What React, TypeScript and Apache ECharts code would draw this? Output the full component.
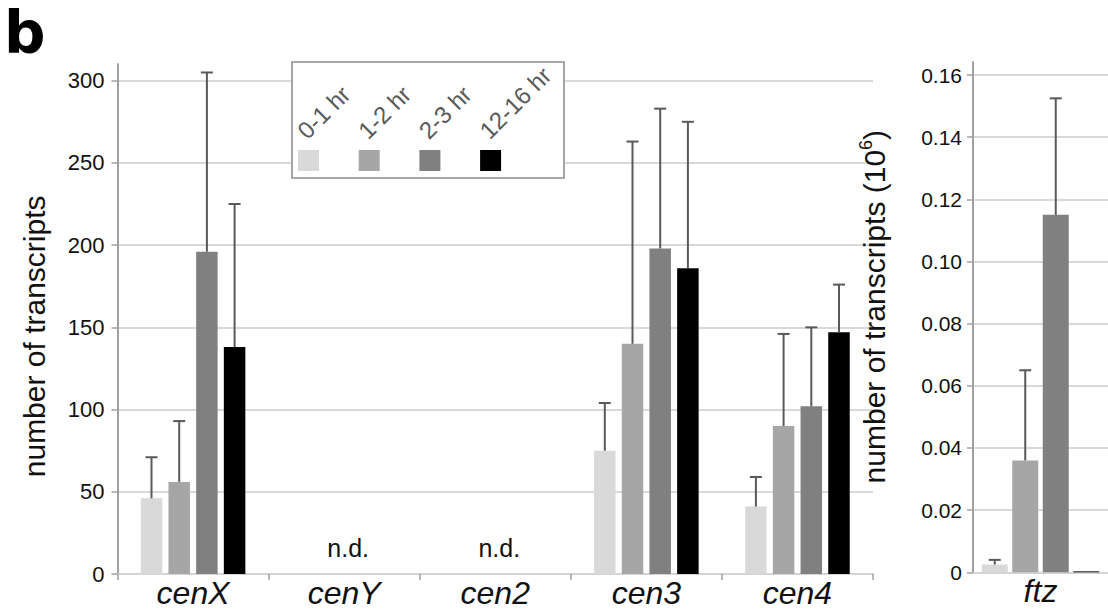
import React, { useEffect, useRef } from 'react';
import * as echarts from 'echarts';

// ---------- data ----------
const categories = ['cenX', 'cenY', 'cen2', 'cen3', 'cen4'];
const timepoints = ['0-1 hr', '1-2 hr', '2-3 hr', '12-16 hr'];
const barColors = ['#d9d9d9', '#a6a6a6', '#808080', '#000000'];

const mean_0_1 = [46, null, null, 75, 41];
const mean_1_2 = [56, null, null, 140, 90];
const mean_2_3 = [196, null, null, 198, 102];
const mean_12_16 = [138, null, null, 186, 147];

const upper_0_1 = [71, null, null, 104, 59];
const upper_1_2 = [93, null, null, 263, 146];
const upper_2_3 = [305, null, null, 283, 150];
const upper_12_16 = [225, null, null, 275, 176];

const notDetected = ['cenY', 'cen2'];

const ftzCategory = ['ftz'];
const ftzMean = [0.0025, 0.036, 0.115, 0.0003];
const ftzUpper = [0.004, 0.065, 0.1525, null];

const leftMeans = [mean_0_1, mean_1_2, mean_2_3, mean_12_16];
const leftUppers = [upper_0_1, upper_1_2, upper_2_3, upper_12_16];

// ---------- style constants ----------
const FONT = '"Liberation Sans", Arial, sans-serif';
const LEFT_BAR_W = 21.5;
const LEFT_GAP = 6.2;
const RIGHT_BAR_W = 26;
const RIGHT_GAP = 4.5;
const ERR_COLOR = '#595959';
const CAP = 12;

function errRender(pitch: number) {
  return (params: any, api: any) => {
    const cat = api.value(0);
    const mean = api.value(1);
    const up = api.value(2);
    const s = api.value(3);
    const base = api.coord([cat, mean]);
    const top = api.coord([cat, up]);
    const x = base[0] + (s - 1.5) * pitch;
    const st = { stroke: ERR_COLOR, lineWidth: 2 };
    return {
      type: 'group',
      children: [
        { type: 'line', shape: { x1: x, y1: base[1], x2: x, y2: top[1] }, style: st },
        { type: 'line', shape: { x1: x - CAP / 2, y1: top[1], x2: x + CAP / 2, y2: top[1] }, style: st },
      ],
    };
  };
}

export default function App() {
  const ref = useRef<HTMLDivElement>(null);
  useEffect(() => {
    if (!ref.current) return;
    const chart = echarts.init(ref.current, null, { renderer: 'svg' });

    const leftErrData: any[] = [];
    leftMeans.forEach((arr, s) => {
      arr.forEach((m, i) => {
        const u = leftUppers[s][i];
        if (m != null && u != null) leftErrData.push([i, m, u, s]);
      });
    });
    const rightErrData: any[] = [];
    ftzMean.forEach((m, s) => {
      const u = ftzUpper[s];
      if (m != null && u != null) rightErrData.push([0, m, u, s]);
    });

    const axisLineOnly = (gridIndex: number) => ({
      gridIndex,
      type: 'value',
      min: 0,
      max: 1,
      axisLine: { show: true, lineStyle: { color: '#a0a0a0', width: 2 } },
      axisTick: { show: false },
      axisLabel: { show: false },
      splitLine: { show: false },
    });

    const legendElems: any[] = [
      {
        type: 'rect',
        z: 100,
        shape: { x: 292, y: 62, width: 272, height: 116 },
        style: { fill: '#fff', stroke: '#a6a6a6', lineWidth: 2 },
      },
    ];
    timepoints.forEach((t, i) => {
      const x0 = 298 + i * 60.7;
      legendElems.push({
        type: 'rect',
        z: 101,
        shape: { x: x0, y: 150, width: 21, height: 21 },
        style: { fill: barColors[i] },
      });
      legendElems.push({
        type: 'text',
        z: 101,
        x: x0 + 12,
        y: 143,
        rotation: Math.PI / 4,
        style: {
          text: t,
          fill: '#595959',
          font: `24px ${FONT}`,
          textAlign: 'left',
          textVerticalAlign: 'bottom',
        },
      });
    });

    const option: any = {
      animation: false,
      textStyle: { fontFamily: FONT },
      grid: [
        { left: 117.5, right: 235, top: 80.7, bottom: 42 },
        { left: 973, right: -14, top: 75, bottom: 43.7 },
        { left: 117.5, right: 235, top: 64, bottom: 42 },
        { left: 973, right: -14, top: 62, bottom: 43.7 },
      ],
      xAxis: [
        {
          gridIndex: 0,
          type: 'category',
          data: categories,
          axisLine: { show: true, lineStyle: { color: '#d4d4d4', width: 2 } },
          axisTick: { show: true, length: 6, lineStyle: { color: '#a0a0a0', width: 1.5 } },
          axisLabel: { fontSize: 32, fontStyle: 'italic', color: '#111', margin: 3, fontFamily: FONT },
        },
        {
          gridIndex: 1,
          type: 'category',
          data: ftzCategory,
          axisLine: { show: true, lineStyle: { color: '#d4d4d4', width: 2 } },
          axisTick: { show: false },
          axisLabel: { fontSize: 32, fontStyle: 'italic', color: '#111', margin: 3, fontFamily: FONT },
        },
        { gridIndex: 2, type: 'category', data: categories, show: false },
        { gridIndex: 3, type: 'category', data: ftzCategory, show: false },
      ],
      yAxis: [
        {
          gridIndex: 0,
          type: 'value',
          min: 0,
          max: 300,
          interval: 50,
          axisLine: { show: false },
          axisTick: { show: true, length: 6, lineStyle: { color: '#a0a0a0', width: 1.5 } },
          axisLabel: { fontSize: 22, color: '#111', margin: 13, fontFamily: FONT },
          splitLine: { show: true, lineStyle: { color: '#d9d9d9', width: 2 } },
          name: 'number of transcripts',
          nameLocation: 'middle',
          nameGap: 68,
          nameTextStyle: { fontSize: 30, color: '#111', fontFamily: FONT, padding: [0, 18, 0, 0] },
        },
        {
          gridIndex: 1,
          type: 'value',
          min: 0,
          max: 0.16,
          interval: 0.02,
          axisLine: { show: false },
          axisTick: { show: true, length: 6, lineStyle: { color: '#a0a0a0', width: 1.5 } },
          axisLabel: {
            fontSize: 21,
            color: '#111',
            margin: 11,
            fontFamily: FONT,
            formatter: (v: number) => (v === 0 ? '0' : v.toFixed(2)),
          },
          splitLine: { show: true, lineStyle: { color: '#d9d9d9', width: 2 } },
          name: '{a|number of transcripts (10}{s|6}{a|)}',
          nameLocation: 'middle',
          nameGap: 82,
          nameTextStyle: {
            fontSize: 30,
            color: '#111',
            fontFamily: FONT,
            padding: [0, 0, 0, 34],
            rich: {
              a: { fontSize: 30, lineHeight: 34, color: '#111', fontFamily: FONT },
              s: { fontSize: 18, lineHeight: 34, verticalAlign: 'top', color: '#111', fontFamily: FONT, padding: [0, 0, 14, 0] },
            },
          },
        },
        axisLineOnly(2),
        axisLineOnly(3),
      ],
      series: [
        ...leftMeans.map((arr, s) => ({
          type: 'bar',
          name: timepoints[s],
          xAxisIndex: 0,
          yAxisIndex: 0,
          data: arr,
          barWidth: LEFT_BAR_W,
          barGap: `${((LEFT_GAP / LEFT_BAR_W) * 100).toFixed(1)}%`,
          itemStyle: { color: barColors[s] },
          z: 2,
        })),
        ...timepoints.map((t, s) => ({
          type: 'bar',
          name: t,
          xAxisIndex: 1,
          yAxisIndex: 1,
          data: [ftzMean[s]],
          barWidth: RIGHT_BAR_W,
          barGap: `${((RIGHT_GAP / RIGHT_BAR_W) * 100).toFixed(1)}%`,
          itemStyle: { color: barColors[s] },
          z: 2,
        })),
        {
          type: 'custom',
          xAxisIndex: 0,
          yAxisIndex: 0,
          data: leftErrData,
          encode: { x: 0, y: [1, 2] },
          renderItem: errRender(LEFT_BAR_W + LEFT_GAP),
          z: 3,
        },
        {
          type: 'custom',
          xAxisIndex: 1,
          yAxisIndex: 1,
          data: rightErrData,
          encode: { x: 0, y: [1, 2] },
          renderItem: errRender(RIGHT_BAR_W + RIGHT_GAP),
          z: 3,
        },
        {
          type: 'custom',
          xAxisIndex: 0,
          yAxisIndex: 0,
          data: notDetected.map((c) => [categories.indexOf(c), 0]),
          encode: { x: 0, y: 1 },
          renderItem: (params: any, api: any) => {
            const p = api.coord([api.value(0), 0]);
            return {
              type: 'text',
              x: p[0] + 4,
              y: p[1] - 26,
              style: {
                text: 'n.d.',
                fill: '#111',
                font: `25px ${FONT}`,
                textAlign: 'center',
                textVerticalAlign: 'middle',
              },
            };
          },
          z: 3,
        },
      ],
      graphic: [
        {
          type: 'text',
          z: 100,
          x: 4,
          y: 4,
          style: {
            text: 'b',
            fill: '#000',
            font: `bold 58px "DejaVu Sans", ${FONT}`,
            textAlign: 'left',
            textVerticalAlign: 'top',
          },
        },
        ...legendElems,
      ],
    };

    chart.setOption(option);
    return () => chart.dispose();
  }, []);

  return (
    <div
      ref={ref}
      style={{ position: 'fixed', left: 0, top: 0, width: 1108, height: 616, background: '#fff' }}
    />
  );
}
